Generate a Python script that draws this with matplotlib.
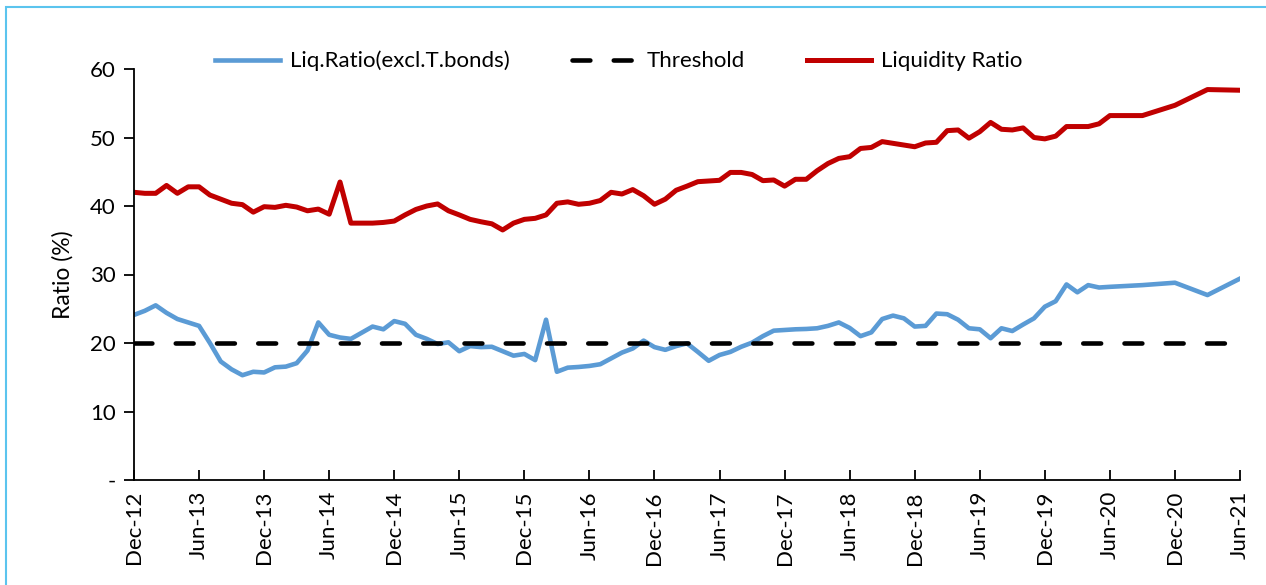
import numpy as np
import pandas as pd
import matplotlib
matplotlib.use("Agg")
from matplotlib import pyplot as plt
from matplotlib.patches import Rectangle

plt.rcParams['font.family'] = ['Lato', 'DejaVu Sans']

# dates: monthly Dec-12 .. May-20, then quarterly to Jun-21
dates = list(pd.date_range('2012-12-01', '2020-05-01', freq='MS')) + \
    list(pd.to_datetime(['2020-06-01', '2020-09-01', '2020-12-01', '2021-03-01', '2021-06-01']))

liq_ratio = [42.0, 41.85, 41.85, 43.0, 41.85, 42.8, 42.8, 41.6, 41.0, 40.4,
             40.2, 39.1, 39.9, 39.8, 40.1, 39.85, 39.3, 39.55, 38.8, 43.5,
             37.5, 37.5, 37.5, 37.6, 37.8, 38.7, 39.5, 40.0, 40.3, 39.3,
             38.7, 38.05, 37.7, 37.4, 36.5, 37.5, 38.05, 38.2, 38.7, 40.4,
             40.6, 40.25, 40.4, 40.8, 42.0, 41.75, 42.4, 41.5, 40.25, 41.0,
             42.3, 42.9, 43.55, 43.65, 43.75, 44.9, 44.9, 44.6, 43.7, 43.8,
             42.9, 43.9, 43.9, 45.15, 46.2, 46.95, 47.2, 48.4, 48.55, 49.4,
             49.15, 48.9, 48.65, 49.2, 49.3, 51.0, 51.1, 49.9, 50.85, 52.2,
             51.2, 51.1, 51.4, 50.0, 49.8, 50.2, 51.6, 51.6, 51.6, 52.0,
             53.2, 53.2, 54.7, 57.0, 56.9]

liq_excl = [24.1, 24.7, 25.5, 24.4, 23.5, 23.0, 22.5, 20.0, 17.3, 16.15,
            15.3, 15.8, 15.7, 16.45, 16.55, 17.05, 18.9, 23.0, 21.2, 20.8,
            20.6, 21.5, 22.4, 22.0, 23.2, 22.8, 21.2, 20.6, 19.85, 20.1,
            18.8, 19.55, 19.4, 19.45, 18.8, 18.15, 18.4, 17.5, 23.4, 15.8,
            16.4, 16.5, 16.65, 16.9, 17.75, 18.6, 19.2, 20.35, 19.4, 19.0,
            19.55, 19.95, 18.7, 17.4, 18.25, 18.7, 19.45, 20.05, 21.0, 21.8,
            21.9, 22.0, 22.05, 22.15, 22.5, 23.0, 22.2, 21.0, 21.55, 23.5,
            24.0, 23.6, 22.4, 22.5, 24.3, 24.2, 23.4, 22.15, 22.0, 20.7,
            22.15, 21.75, 22.7, 23.6, 25.3, 26.1, 28.55, 27.4, 28.45, 28.1,
            28.2, 28.45, 28.8, 27.0, 29.4]

threshold = 20

tick_labels = ['Dec-12', 'Jun-13', 'Dec-13', 'Jun-14', 'Dec-14', 'Jun-15',
               'Dec-15', 'Jun-16', 'Dec-16', 'Jun-17', 'Dec-17', 'Jun-18',
               'Dec-18', 'Jun-19', 'Dec-19', 'Jun-20', 'Dec-20', 'Jun-21']

# months since Dec-12
x = np.array([(d.year - 2012) * 12 + d.month - 12 for d in dates])

fig = plt.figure(figsize=(12.66, 5.85), dpi=100)
ax = fig.add_axes([134 / 1266, 1 - 480 / 585, (1240 - 134) / 1266, (480 - 69) / 585])

l1, = ax.plot(x, liq_excl, color='#5B9BD5', lw=3.3, solid_joinstyle='round')
l2, = ax.plot([0, 102], [threshold, threshold], color='black', lw=3.3,
              dashes=(3.9, 5.1), dash_capstyle='round')
l3, = ax.plot(x, liq_ratio, color='#C00000', lw=3.6, solid_joinstyle='round')

ax.set_xlim(0, 102)
ax.set_ylim(0, 60)
ax.set_xticks(np.arange(0, 103, 6))
ax.set_xticklabels(tick_labels, rotation=90, fontsize=16)
ax.set_yticks(np.arange(0, 61, 10))
ax.set_yticklabels(['-', '10', '20', '30', '40', '50', '60'], fontsize=16)
ax.tick_params(axis='x', direction='in', length=7, width=1.3, pad=8)
ax.tick_params(axis='y', direction='out', length=7, width=1.3, pad=6)
for s in ['top', 'right']:
    ax.spines[s].set_visible(False)
for s in ['left', 'bottom']:
    ax.spines[s].set_linewidth(1.3)
ax.set_ylabel('Ratio (%)', fontsize=16.5, labelpad=12)

fig.legend([l1, l2, l3], ['Liq.Ratio(excl.T.bonds)', 'Threshold', 'Liquidity Ratio'],
           loc='center', bbox_to_anchor=(619 / 1266, 1 - 61 / 585), ncol=3,
           frameon=False, fontsize=16, handlelength=2.9, handletextpad=0.45,
           columnspacing=2.8)

fig.patches.append(Rectangle((6 / 1266, -0.05), 1.1, 1 - 7 / 585 + 0.05,
                             transform=fig.transFigure, fill=False,
                             edgecolor='#5BC4EE', lw=1.5))

fig.savefig('out.png', dpi=100)
